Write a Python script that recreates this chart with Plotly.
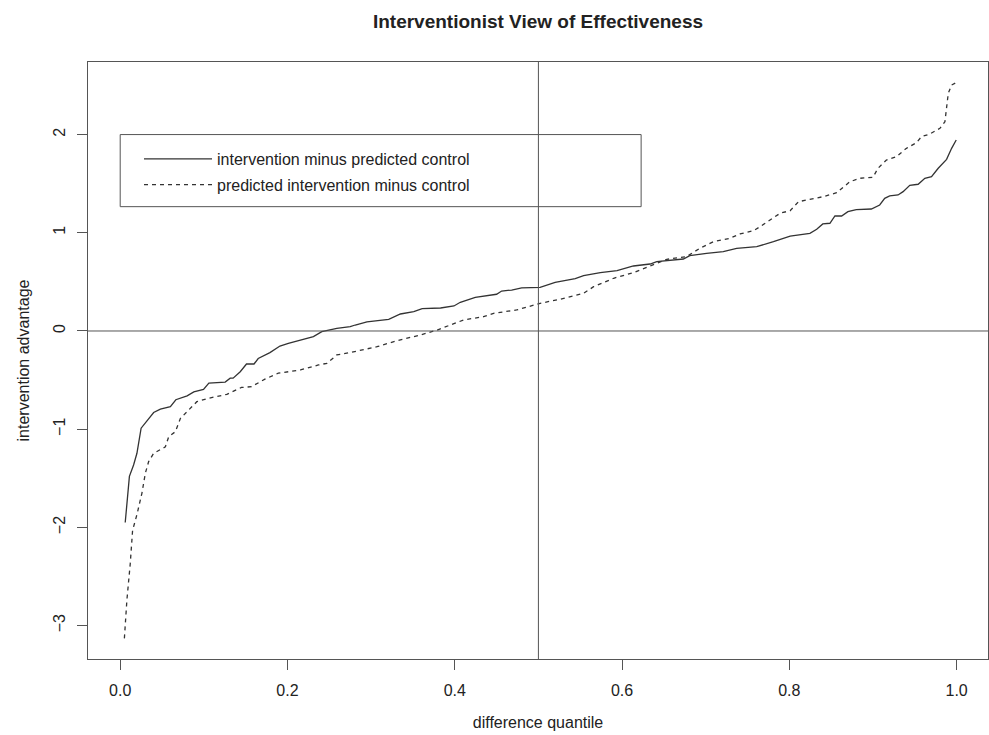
import plotly.graph_objects as go

title_text = "Interventionist View of Effectiveness"
x_title = "difference quantile"
y_title = "intervention advantage"
series_names = ["intervention minus predicted control", "predicted intervention minus control"]

x_ticks = [0.0, 0.2, 0.4, 0.6, 0.8, 1.0]
x_tick_labels = ["0.0", "0.2", "0.4", "0.6", "0.8", "1.0"]
y_ticks = [-3, -2, -1, 0, 1, 2]
y_tick_labels = ["\u22123", "\u22122", "\u22121", "0", "1", "2"]

solid_x = [0.006, 0.011, 0.016, 0.020, 0.025, 0.032, 0.040, 0.048, 0.060, 0.0665,
           0.080, 0.088, 0.0996, 0.106, 0.1255, 0.1315, 0.135, 0.1435, 0.151, 0.160,
           0.165, 0.179, 0.191, 0.201, 0.2155, 0.231, 0.241, 0.259, 0.275, 0.281,
           0.295, 0.321, 0.335, 0.351, 0.361, 0.383, 0.399, 0.4066, 0.4245, 0.450,
           0.456, 0.468, 0.480, 0.502, 0.520, 0.544, 0.554, 0.574, 0.594, 0.6136,
           0.6335, 0.6415, 0.6733, 0.681, 0.701, 0.721, 0.737, 0.761, 0.781, 0.801,
           0.8246, 0.8327, 0.840, 0.8485, 0.8545, 0.8625, 0.870, 0.880, 0.898, 0.908,
           0.914, 0.920, 0.930, 0.936, 0.944, 0.954, 0.962, 0.970, 0.978, 0.988,
           0.994, 0.9995]
solid_y = [-1.95, -1.48, -1.365, -1.245, -0.99, -0.92, -0.83, -0.795, -0.77, -0.70,
           -0.66, -0.62, -0.595, -0.53, -0.52, -0.48, -0.48, -0.415, -0.336, -0.336,
           -0.28, -0.22, -0.153, -0.125, -0.092, -0.058, -0.007, 0.027, 0.044, 0.061,
           0.092, 0.119, 0.173, 0.197, 0.227, 0.234, 0.255, 0.292, 0.343, 0.374,
           0.407, 0.417, 0.438, 0.445, 0.496, 0.533, 0.563, 0.594, 0.614, 0.662,
           0.682, 0.706, 0.733, 0.767, 0.791, 0.808, 0.842, 0.858, 0.909, 0.967,
           0.995, 1.035, 1.09, 1.097, 1.171, 1.171, 1.215, 1.235, 1.242, 1.283,
           1.351, 1.375, 1.385, 1.419, 1.484, 1.494, 1.555, 1.571, 1.657, 1.748,
           1.86, 1.945]

dashed_x = [0.005, 0.008, 0.012, 0.0148, 0.020, 0.026, 0.030, 0.034, 0.040, 0.054,
            0.058, 0.066, 0.072, 0.082, 0.0916, 0.1056, 0.1175, 0.1275, 0.145, 0.157,
            0.173, 0.189, 0.201, 0.2155, 0.237, 0.247, 0.259, 0.275, 0.307, 0.331,
            0.359, 0.379, 0.3946, 0.4105, 0.4344, 0.4464, 0.474, 0.494, 0.502, 0.526,
            0.554, 0.566, 0.590, 0.6136, 0.6216, 0.6335, 0.6535, 0.677, 0.693, 0.709,
            0.729, 0.741, 0.757, 0.765, 0.781, 0.789, 0.801, 0.811, 0.821, 0.8405,
            0.8565, 0.8724, 0.8844, 0.900, 0.906, 0.916, 0.928, 0.940, 0.952, 0.958,
            0.968, 0.980, 0.986, 0.990, 0.994, 0.9995]
dashed_y = [-3.13, -2.74, -2.37, -2.03, -1.87, -1.65, -1.45, -1.33, -1.245, -1.18,
            -1.076, -1.025, -0.89, -0.805, -0.72, -0.685, -0.66, -0.645, -0.575, -0.567,
            -0.49, -0.43, -0.415, -0.397, -0.346, -0.329, -0.244, -0.22, -0.16, -0.099,
            -0.04, 0.01, 0.061, 0.112, 0.146, 0.18, 0.214, 0.262, 0.282, 0.323,
            0.384, 0.451, 0.537, 0.594, 0.621, 0.655, 0.73, 0.757, 0.842, 0.909,
            0.944, 0.988, 1.021, 1.062, 1.148, 1.199, 1.225, 1.317, 1.334, 1.368,
            1.408, 1.52, 1.555, 1.565, 1.657, 1.741, 1.775, 1.86, 1.918, 1.979,
            2.006, 2.064, 2.131, 2.42, 2.505, 2.529]

ref_h = 0.0
ref_v = 0.5
legend_box = dict(x0=0.0, x1=0.6228, y0=1.266, y1=2.0)

FONT = "Liberation Sans, Arial, Helvetica, sans-serif"
AX = "#555555"
INK = "#333333"

fig = go.Figure()
fig.add_trace(go.Scatter(x=solid_x, y=solid_y, mode="lines", name=series_names[0],
                         line=dict(color=INK, width=1.3), legendgroup="a"))
fig.add_trace(go.Scatter(x=dashed_x, y=dashed_y, mode="lines", name=series_names[1],
                         line=dict(color=INK, width=1.3, dash="4px,4px"), legendgroup="b"))

fig.add_shape(type="line", xref="x domain", x0=0, x1=1, yref="y", y0=ref_h, y1=ref_h,
              line=dict(color=AX, width=1))
fig.add_shape(type="line", xref="x", x0=ref_v, x1=ref_v, yref="y domain", y0=0, y1=1,
              line=dict(color=AX, width=1))
fig.add_shape(type="rect", xref="x", yref="y", line=dict(color=AX, width=1),
              fillcolor="rgba(0,0,0,0)", **legend_box)

fig.update_layout(
    width=989, height=735,
    margin=dict(l=88, r=1, t=62, b=76, autoexpand=False),
    paper_bgcolor="white", plot_bgcolor="white",
    font=dict(family=FONT, size=16, color="#222222"),
    title=dict(text="<b>" + title_text + "</b>", x=538 / 989,
               xanchor="center", y=1 - 21 / 735, yanchor="middle",
               font=dict(size=19, color="#222222"), automargin=False),
    showlegend=True,
    legend=dict(x=(139 - 88) / 900, xanchor="left", y=(659 - 142) / 597, yanchor="top",
                bgcolor="rgba(0,0,0,0)", borderwidth=0, itemwidth=68,
                tracegroupgap=2, font=dict(size=16, color="#222222")),
    xaxis=dict(range=[-0.0385, 1.0375], tickvals=x_ticks, ticktext=x_tick_labels,
               ticks="outside", ticklen=10, tickcolor=AX, tickwidth=1,
               showline=True, linecolor=AX, linewidth=1, mirror=True,
               showgrid=False, zeroline=False, ticklabelstandoff=7, automargin=False,
               tickfont=dict(size=16),
               title=dict(text=x_title, standoff=18, font=dict(size=16))),
    yaxis=dict(range=[-3.34, 2.739], tickvals=y_ticks, ticktext=y_tick_labels,
               ticks="outside", ticklen=10, tickcolor=AX, tickwidth=1, tickangle=-90,
               showline=True, linecolor=AX, linewidth=1, mirror=True,
               showgrid=False, zeroline=False, ticklabelstandoff=6, automargin=False,
               tickfont=dict(size=16),
               title=dict(text=y_title, standoff=16, font=dict(size=16))),
)

fig.write_html("out.html", config={"displayModeBar": False},
               post_script="document.body.style.margin='0';document.body.style.overflow='hidden';")
